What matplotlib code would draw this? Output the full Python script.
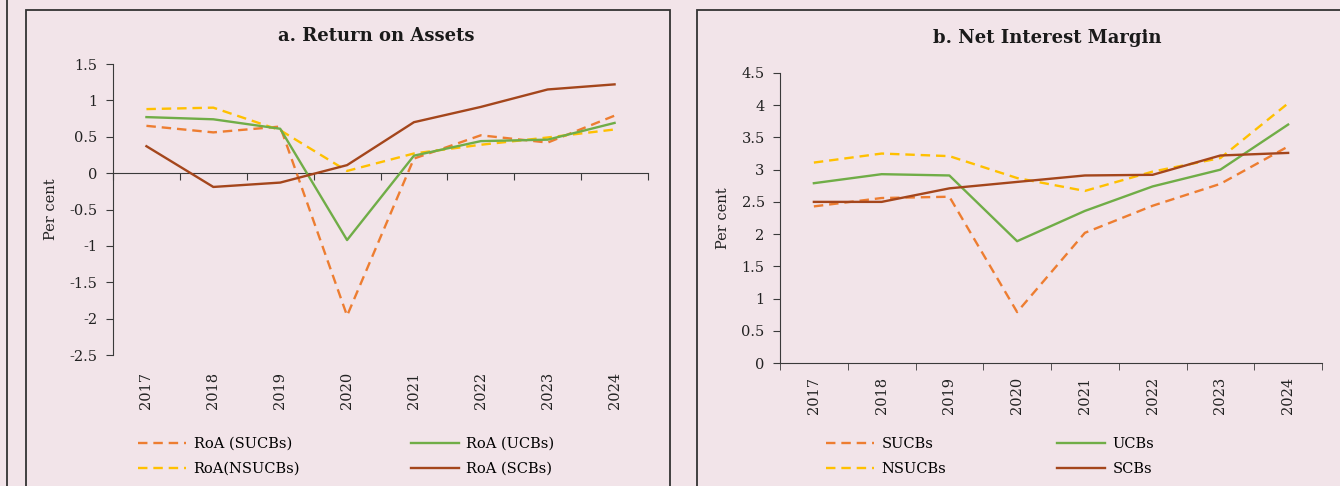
import matplotlib.pyplot as plt
from matplotlib.patches import Rectangle
from matplotlib.lines import Line2D

years = ['2017', '2018', '2019', '2020', '2021', '2022', '2023', '2024']

# a. Return on Assets (per cent)
roa_sucbs = [0.65, 0.56, 0.64, -1.96, 0.20, 0.52, 0.42, 0.79]
roa_nsucbs = [0.88, 0.90, 0.59, 0.03, 0.27, 0.39, 0.49, 0.60]
roa_ucbs = [0.77, 0.74, 0.61, -0.92, 0.24, 0.44, 0.46, 0.69]
roa_scbs = [0.37, -0.19, -0.13, 0.11, 0.70, 0.91, 1.15, 1.22]

# b. Net Interest Margin (per cent)
nim_sucbs = [2.43, 2.56, 2.58, 0.79, 2.02, 2.44, 2.78, 3.36]
nim_nsucbs = [3.11, 3.25, 3.21, 2.87, 2.67, 2.97, 3.18, 4.03]
nim_ucbs = [2.79, 2.93, 2.91, 1.89, 2.36, 2.74, 3.00, 3.70]
nim_scbs = [2.50, 2.50, 2.71, 2.81, 2.91, 2.92, 3.22, 3.26]

bg = '#f2e4e9'
c_orange = '#ed7d31'
c_yellow = '#ffc000'
c_green = '#70ad47'
c_brown = '#a4461c'
axis_col = '#3a3a3a'

plt.rcParams['font.family'] = ['DejaVu Serif']

fig = plt.figure(figsize=(13.4, 4.86), dpi=100, facecolor=bg)

# panel frames
W, H = 1340, 486
def frame(x0, x1, y_top):
    fig.patches.append(Rectangle((x0 / W, -0.05), (x1 - x0) / W, 1 - y_top / H + 0.05,
                                 transform=fig.transFigure, fill=False,
                                 edgecolor='#333333', lw=1.3))
frame(26, 670, 10)
frame(697, 1345, 10)
fig.add_artist(Line2D([7 / W, 7 / W], [0, 1], transform=fig.transFigure,
                      color='#333333', lw=1.3))


def panel(rect, series, ylim, yticks, title, title_y, zero_axis):
    ax = fig.add_axes(rect)
    ax.set_facecolor(bg)
    x = list(range(len(years)))
    for vals, col, ls, lab in series:
        ax.plot(x, vals, color=col, lw=1.7, ls=ls, dashes=(4, 2.5) if ls == '--' else (None, None),
                label=lab)
    ax.set_xlim(-0.5, len(years) - 0.5)
    ax.set_ylim(*ylim)
    ax.set_yticks(yticks)
    ax.set_yticklabels([('%g' % t) for t in yticks])
    ax.set_xticks(x)
    ax.set_xticklabels(years, rotation=90)
    for s in ['top', 'right']:
        ax.spines[s].set_visible(False)
    ax.spines['left'].set_color(axis_col)
    ax.tick_params(axis='y', direction='out', length=5, color=axis_col,
                   labelsize=10.5, labelcolor='#222222', pad=6)
    bounds = [i - 0.5 for i in range(len(years) + 1)]
    if zero_axis:
        ax.spines['bottom'].set_visible(False)
        ax.tick_params(axis='x', length=0, labelsize=10.5, labelcolor='#222222', pad=12)
        frac = (0 - ylim[0]) / (ylim[1] - ylim[0])
        sec = ax.secondary_xaxis(frac)
        sec.set_alignment('bottom')
        sec.set_xticks(bounds)
        sec.set_xticklabels([])
        sec.tick_params(axis='x', direction='out', length=5, color=axis_col)
        sec.spines['bottom'].set_color(axis_col)
        sec.spines['top'].set_visible(False)
    else:
        ax.spines['bottom'].set_color(axis_col)
        ax.set_xticks(bounds, minor=True)
        ax.tick_params(axis='x', which='major', length=0, labelsize=10.5,
                       labelcolor='#222222', pad=10)
        ax.tick_params(axis='x', which='minor', direction='out', length=5, color=axis_col)
    ax.set_ylabel('Per cent', fontsize=10.5, color='#222222', labelpad=8)
    fig.text(rect[0] + rect[2] / 2 - 0.003, title_y, title, ha='center', va='center',
             fontsize=13, fontweight='bold', color='#1a1a1a')
    return ax


ax1 = panel([113 / W, 1 - 355 / H, 535 / W, 291 / H],
            [(roa_sucbs, c_orange, '--', 'RoA (SUCBs)'),
             (roa_nsucbs, c_yellow, '--', 'RoA(NSUCBs)'),
             (roa_ucbs, c_green, '-', 'RoA (UCBs)'),
             (roa_scbs, c_brown, '-', 'RoA (SCBs)')],
            (-2.5, 1.5), [1.5, 1, 0.5, 0, -0.5, -1, -1.5, -2, -2.5],
            'a. Return on Assets', 1 - 36 / H, True)

ax2 = panel([780 / W, 1 - 363 / H, 542 / W, 290 / H],
            [(nim_sucbs, c_orange, '--', 'SUCBs'),
             (nim_nsucbs, c_yellow, '--', 'NSUCBs'),
             (nim_ucbs, c_green, '-', 'UCBs'),
             (nim_scbs, c_brown, '-', 'SCBs')],
            (0, 4.5), [0, 0.5, 1, 1.5, 2, 2.5, 3, 3.5, 4, 4.5],
            'b. Net Interest Margin', 1 - 38 / H, False)

for ax, x0 in [(ax1, 125), (ax2, 813)]:
    ax.legend(loc='upper left', bbox_to_anchor=(x0 / W, 1 - 424 / H),
              bbox_transform=fig.transFigure, ncol=2, frameon=False,
              fontsize=10.5, handlelength=3.3, columnspacing=7.6,
              labelspacing=0.75, handletextpad=0.5)

fig.savefig('out.png', dpi=100, facecolor=bg)
